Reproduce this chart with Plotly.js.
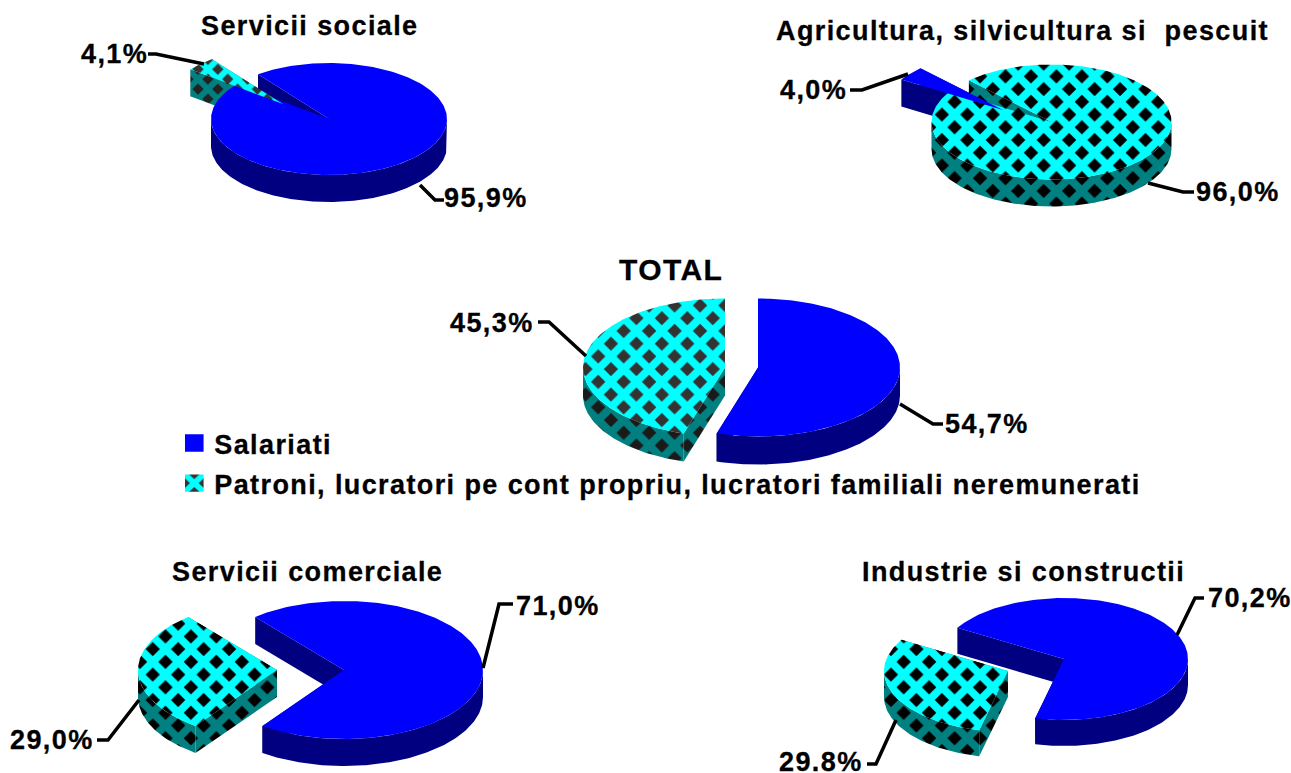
<!DOCTYPE html>
<html>
<head>
<meta charset="utf-8">
<script src="https://cdn.plot.ly/plotly-3.0.1.min.js"></script>
<style>
html,body{margin:0;padding:0;background:#fff}
#chart{width:1291px;height:773px}
.legendpie{transform:translate(20px,0px) scale(1.55,1.45)!important}
.annotation-text,.legendtext{letter-spacing:1.4px;stroke:#000;stroke-width:0.3px}
</style>
</head>
<body>
<div id="chart"></div>
<script>
// ---- data ----
const panelTitles = ["Servicii sociale", "Agricultura, silvicultura si  pescuit", "TOTAL", "Servicii comerciale", "Industrie si constructii"];
const salariatiValues = [95.9, 4.0, 54.7, 71.0, 70.2];
const patroniValues = [4.1, 96.0, 45.3, 29.0, 29.8];
const salariatiLabels = ["95,9%", "4,0%", "54,7%", "71,0%", "70,2%"];
const patroniLabels = ["4,1%", "96,0%", "45,3%", "29,0%", "29.8%"];
const seriesNames = ["Salariati", "Patroni, lucratori pe cont propriu, lucratori familiali neremunerati"];

// ---- drawing geometry (pixels of the full-page axes) ----
const FONT = "Liberation Sans, Arial, sans-serif";
const TXT = 27;
const titleSizes = [27, 27, 30, 27, 27];
const geometry = [
  {s:[329,119], p:[283,104], rx:118, ry:56, d:27, start:127, ink:"#333333", wallInk:"#222222", size:14},
  {s:[1003,110], p:[1051.5,122], rx:120, ry:57.5, d:27, start:147.9, ink:"#000000", wallInk:"#000000", size:18},
  {s:[758,367.5], p:[725,367.5], rx:142, ry:69, d:28, start:90, ink:"#333333", wallInk:"#1a1a1a", size:18},
  {s:[344,670], p:[277,670], rx:139, ry:69, d:27, start:129.7, ink:"#000000", wallInk:"#000000", size:18},
  {s:[1064,659], p:[1008,671], rx:124, ry:61, d:26, start:149.3, ink:"#000000", wallInk:"#000000", size:18}
];
const titlePos = [[310,26],[1022,31],[671,269],[307,572],[1023,572]];
const salLabelPos = [[486,198],[813,90],[987,424],[558,606],[1250,598]];
const patLabelPos = [[114,54],[1238,192],[492,323],[52,740],[821,762]];
const leaders = [
  [[420,185],[435,200],[444,200]], [[148,54],[156,54],[204,64]],
  [[908,74],[862,90],[850,90]],    [[1148,183],[1183,192],[1194,192]],
  [[900,404],[933,424],[943,424]], [[538,322],[549,322],[586,356]],
  [[483,668],[499,604],[513,604]], [[97,740],[108,740],[139,700]],
  [[1177,635],[1195,598],[1204,598]], [[867,764],[876,764],[896,720]]
];

const rad = Math.PI/180;
function pt(c, g, a, dz){ return [c[0]+g.rx*Math.cos(a*rad), c[1]-g.ry*Math.sin(a*rad)+(dz||0)]; }
function arc(c, g, a, b, dz){
  const out=[]; const n=Math.max(2,Math.ceil(Math.abs(b-a)));
  for(let i=0;i<=n;i++) out.push(pt(c,g,a+(b-a)*i/n,dz));
  return out;
}
function poly(points, solid, pat){
  const t = {type:"scatter", mode:"lines", x:points.map(p=>p[0]), y:points.map(p=>p[1]),
    fill:"toself", line:{width:0,color:solid}, fillcolor:solid, hoverinfo:"skip", showlegend:false, xaxis:"x", yaxis:"y"};
  if(pat){
    t.fillpattern = {shape:"x", size:pat.size, solidity:0.68, fgcolor:pat.fg, bgcolor:pat.bg, fillmode:"replace"};
  }
  return t;
}
function wallsOf(c, g, a, b, solid, pat){
  const out=[];
  [a,b].forEach(e=>{
    const o=pt(c,g,e,0), o2=pt(c,g,e,g.d);
    out.push(poly([c,o,o2,[c[0],c[1]+g.d],c],solid,pat));
  });
  [[180,360],[540,720]].forEach(r=>{
    const l=Math.max(a,r[0]), h=Math.min(b,r[1]);
    if(h>l){
      const top=arc(c,g,l,h,0), bot=arc(c,g,h,l,g.d);
      out.push(poly(top.concat(bot),solid,pat));
    }
  });
  return out;
}
function topOf(c, g, a, b, solid, pat){
  return [poly([c].concat(arc(c,g,a,b,0)).concat([c]),solid,pat)];
}

let traces=[];
geometry.forEach((g,i)=>{
  const pa=g.start, pb=g.start+3.6*patroniValues[i];
  const sa=pb, sb=g.start+360;
  const teal = {size:g.size, fg:"#008080", bg:g.wallInk};
  const cyan = {size:g.size, fg:"#00ffff", bg:g.ink};
  const S = {w:wallsOf(g.s,g,sa,sb,"#000080"), t:topOf(g.s,g,sa,sb,"#0000ff")};
  const P = {w:wallsOf(g.p,g,pa,pb,"#008080",teal), t:topOf(g.p,g,pa,pb,"#00ffff",cyan)};
  const minor = patroniValues[i]<salariatiValues[i] ? P : S;
  const major = minor===P ? S : P;
  traces = traces.concat(minor.w, major.w, major.t, minor.t);
});

// Legend entries: pies of no visible size, so the legend uses the library's own square keys.
seriesNames.forEach((name,i)=>{
  traces.push({type:"pie", labels:[name], values:[i?patroniValues[2]:salariatiValues[2]],
    domain:{x:[0.5,0.5002],y:[0.5,0.5002]}, textinfo:"none", hoverinfo:"skip", sort:false,
    legendgroup:"g"+i, showlegend:true,
    marker:{colors:[i?"#00ffff":"#0000ff"], line:{width:0},
      pattern: i?{shape:"x",size:12,solidity:0.55,fgcolor:"#00ffff",bgcolor:"#333333",fillmode:"replace"}:{shape:""}}});
});

const annotations=[];
function addText(text,pos,size){
  annotations.push({text:text,x:pos[0],y:pos[1],xref:"x",yref:"y",showarrow:false,
    xanchor:"center",yanchor:"middle",font:{family:FONT,size:size,color:"#000"}});
}
panelTitles.forEach((t,i)=>addText("<b>"+t+"</b>",titlePos[i],titleSizes[i]));
salariatiLabels.forEach((t,i)=>addText("<b>"+t+"</b>",salLabelPos[i],TXT));
patroniLabels.forEach((t,i)=>addText("<b>"+t+"</b>",patLabelPos[i],TXT));

const shapes=leaders.map(l=>({type:"path",xref:"x",yref:"y",layer:"above",
  path:"M"+l.map(p=>p[0]+","+p[1]).join("L"),line:{color:"#000",width:3.5},fillcolor:"rgba(0,0,0,0)"}));

const layout={
  width:1291,height:773,margin:{l:0,r:0,t:0,b:0},paper_bgcolor:"#fff",plot_bgcolor:"#fff",
  xaxis:{range:[0,1291],visible:false,fixedrange:true},
  yaxis:{range:[773,0],visible:false,fixedrange:true},
  annotations:annotations,shapes:shapes,
  showlegend:true,
  legend:{x:0.135,y:0.458,xanchor:"left",yanchor:"top",bgcolor:"rgba(0,0,0,0)",borderwidth:0,
    font:{family:FONT,size:TXT,color:"#000",weight:"bold"},tracegroupgap:2,itemclick:false,itemdoubleclick:false}
};
Plotly.newPlot("chart",traces,layout,{displayModeBar:false});
</script>
</body>
</html>
